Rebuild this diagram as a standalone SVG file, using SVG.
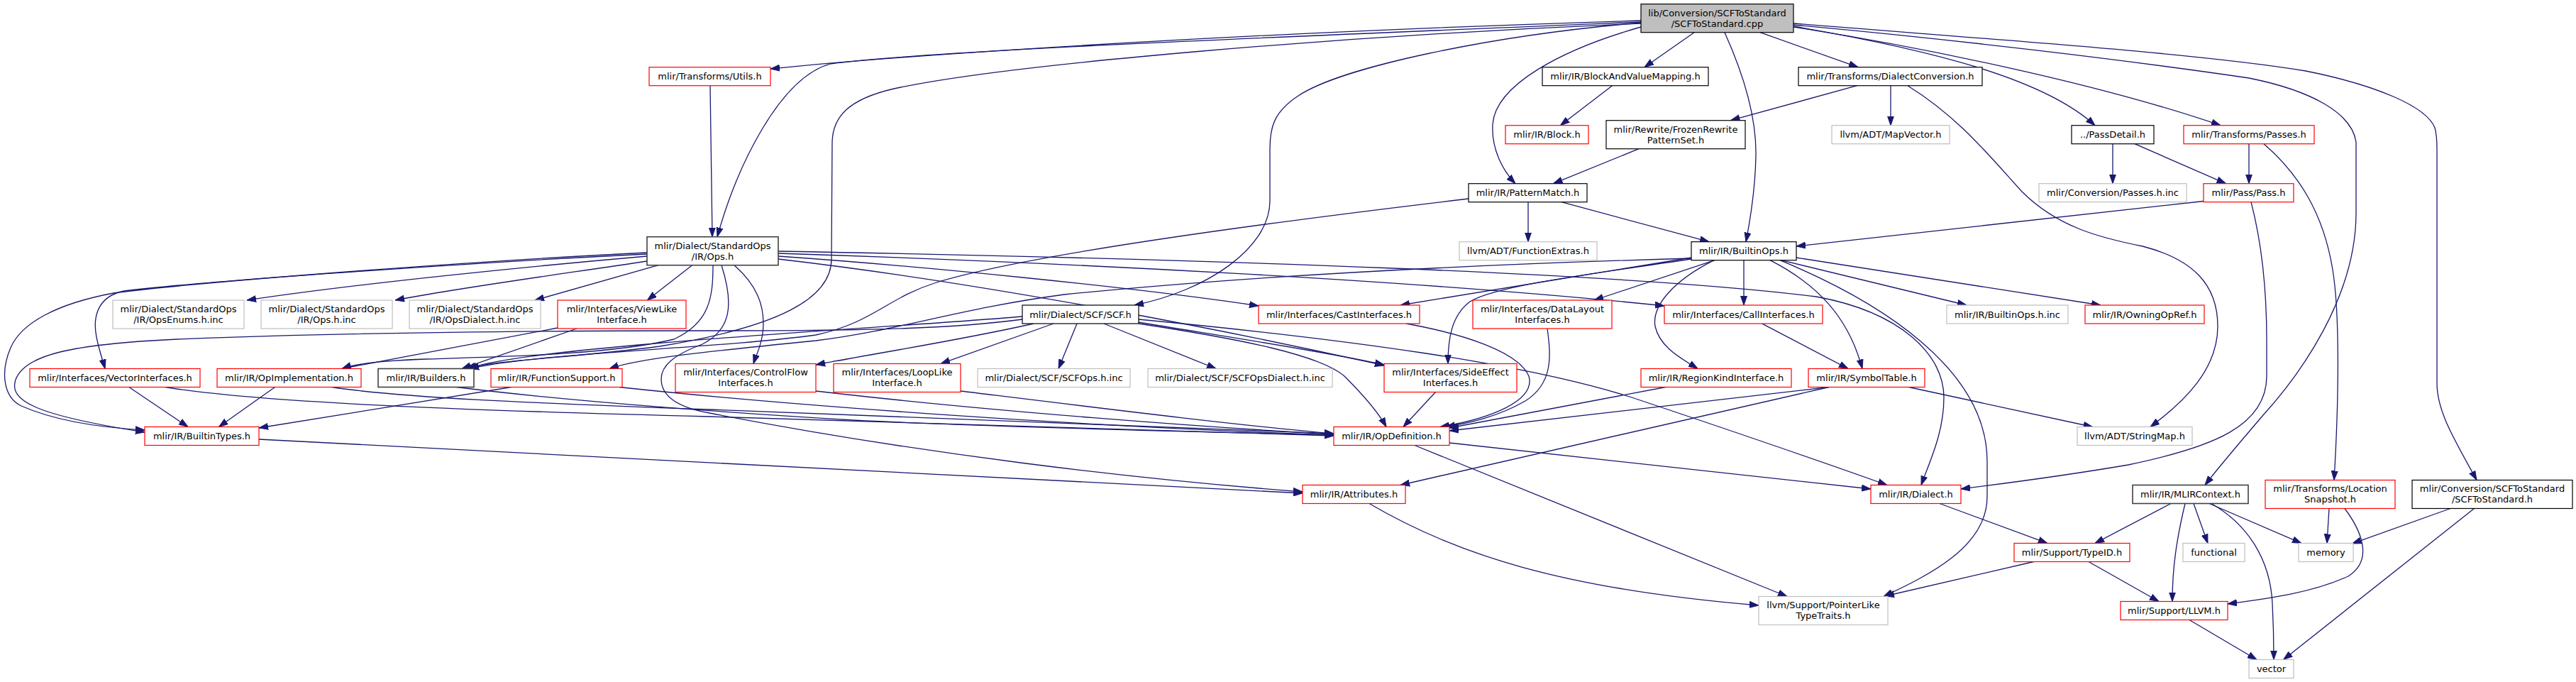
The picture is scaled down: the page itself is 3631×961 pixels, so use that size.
<svg xmlns="http://www.w3.org/2000/svg" width="3631" height="961" viewBox="0 0 3631 961">
<style>
.node rect{fill:#fff;stroke:#000;stroke-width:1.2}
.node.r rect{stroke:#ff0000}
.node.g rect{stroke:#bfbfbf}
.node.d rect{stroke:#404040;stroke-width:1.6}
.node.root rect{fill:#bfbfbf}
text{font-family:"DejaVu Sans","Liberation Sans",sans-serif;font-size:13px;text-anchor:middle;fill:#000}
.edges path{fill:none;stroke:#191970;stroke-width:1.3;marker-end:url(#a)}
</style>
<defs>
<marker id="a" markerWidth="13" markerHeight="10" refX="13" refY="5" orient="auto" markerUnits="userSpaceOnUse"><path d="M0,0.5 L13,5 L0,9.5 z" fill="#191970" stroke="#191970" stroke-width="1"/></marker>
</defs>
<rect x="0" y="0" width="3631" height="961" fill="#fff"/>
<g id="connectors" class="edges">
<path d="M2313,29 C1700,48 1250,80 1086,97"/>
<path d="M2313,31 C1800,52 1300,72 1170,90 C1100,110 1040,230 1011,333.7"/>
<path d="M2388,45.7 L2318,94.7"/>
<path d="M2481,45.7 L2619,94.7"/>
<path d="M2313,38 C2200,70 2108,120 2104,175 C2102,210 2118,240 2136,258.7"/>
<path d="M2431,45.7 C2460,110 2476,170 2475,220 C2474,270 2467,310 2461,340.7"/>
<path d="M2313,32 C2100,50 1890,95 1830,135 C1795,158 1790,180 1790,210 L1790,283 C1790,350 1700,410 1599,430"/>
<path d="M2528,37 C2720,70 2880,110 2953,176.7"/>
<path d="M2528,38 C2700,65 2950,115 3130,176.7"/>
<path d="M2528,35 C2750,55 3000,85 3170,110 C3260,128 3315,160 3321,200 L3321,300 C3321,420 3240,530 3190,585 C3160,620 3130,655 3108,683.5"/>
<path d="M2528,33 C2800,55 3100,75 3250,100 C3350,120 3420,150 3432,180 C3435,190 3435,200 3435,210 L3435,540 C3435,580 3460,620 3491,676.5"/>
<path d="M2313,33 C1900,50 1420,90 1260,125 C1195,140 1174,165 1173,200 L1172,365 C1172,420 1100,460 930,488 C800,505 700,507 657,519.5"/>
<path d="M1001,120.7 L1004,333.7"/>
<path d="M2272.5,120.7 L2199.4,176.7"/>
<path d="M2617.5,120.7 L2439.5,169.7"/>
<path d="M2665,120.7 L2665,176.7"/>
<path d="M2689,120.7 C2760,165 2800,215 2850,270 C2900,320 2960,335 3020,347 C3090,365 3126,400 3126,460 C3126,520 3080,565 3031,601.5"/>
<path d="M2310,209.7 L2189.5,258.7"/>
<path d="M2978,202.7 L2978,258.7"/>
<path d="M3009,202.7 L3137.5,258.7"/>
<path d="M3170,202.7 L3170,258.7"/>
<path d="M3191,202.7 C3240,245 3275,300 3288,380 C3298,440 3297,560 3290,676.5"/>
<path d="M3106,283.5 L2532,347"/>
<path d="M3173,284.7 C3190,350 3195,420 3195,480 L3195,530 C3195,600 3120,630 3000,655 C2900,672 2820,682 2764,689"/>
<path d="M2154,284.7 L2154,340.7"/>
<path d="M2201,284.7 L2409,340.7"/>
<path d="M2070,280 C1800,312 1450,358 1320,398 C1250,420 1230,455 1150,472 C1000,492 760,497 662,519.5"/>
<path d="M912,361 C750,375 500,400 348,423"/>
<path d="M912,368 C800,385 650,405 557,423"/>
<path d="M928,373.7 L754,423"/>
<path d="M912,358 C700,368 300,395 175,410 C135,418 131,450 136,475 C140,495 145,508 148,519.5"/>
<path d="M912,356 C700,366 300,395 160,413 C80,428 30,455 15,490 C0,525 5,560 30,572 C80,594 150,603 204,606"/>
<path d="M975.6,373.7 L912.4,423"/>
<path d="M1005,373.7 C1005,420 1000,455 950,478 C860,500 700,503 600,506 C540,508 500,513 482,519.5"/>
<path d="M1017,373.7 C1035,430 1030,465 990,485 C950,500 932,515 932,534 C932,560 960,575 1000,582 C1300,640 1600,675 1836,693"/>
<path d="M1035,373.7 C1065,400 1080,430 1075,470 C1072,490 1066,500 1062,512.5"/>
<path d="M1097,361 C1300,375 1600,405 1774,431"/>
<path d="M1097,357 C1500,370 2000,395 2346,431"/>
<path d="M1097,365 C1400,400 1750,470 1951,515"/>
<path d="M1097,354 C1700,365 2300,385 2560,418 C2680,440 2740,500 2740,560 C2740,610 2720,650 2708,683.5"/>
<path d="M786,462 L482,519.5"/>
<path d="M813,463 L651,519.5"/>
<path d="M1441,450 C1350,462 1250,466 1000,466 C700,466 450,470 250,478 C100,485 35,500 22,535 C12,565 50,585 204,609"/>
<path d="M1441,446 C1300,458 1100,468 900,486 C780,497 700,506 659,519.5"/>
<path d="M1457,456 C1350,480 1250,495 1150,514"/>
<path d="M1485,456 L1326,512.5"/>
<path d="M1518,456 L1492,519.5"/>
<path d="M1556,456 L1714,519.5"/>
<path d="M1605,454 C1700,470 1850,492 1951,514"/>
<path d="M1605,456 C1750,478 1860,500 1895,530 C1925,560 1945,585 1954,601.5"/>
<path d="M1605,450 C1900,478 2150,512 2300,560 C2450,610 2580,655 2660,683.5"/>
<path d="M2384,363 L1974,430"/>
<path d="M2417,366.7 L2247,423"/>
<path d="M2458,366.7 L2458,430"/>
<path d="M2511,366.7 L2772,430"/>
<path d="M2532,363 L2961,430"/>
<path d="M2495,366.7 C2560,400 2605,445 2625,519.5"/>
<path d="M2509,366.7 C2650,425 2801,520 2801,650 L2801,700 C2801,770 2720,810 2655,840.5"/>
<path d="M2384,365 C2250,385 2110,402 2072,425 C2045,445 2041,480 2041,512.5"/>
<path d="M2416,366.7 C2360,395 2328,430 2333,460 C2340,490 2370,505 2393,519.5"/>
<path d="M2384,364 C2000,375 1700,395 1500,415 C1350,435 1270,465 1150,480 C1000,495 900,505 859,519.5"/>
<path d="M2483,455.7 L2605,519.5"/>
<path d="M2578,545.5 L2043,607"/>
<path d="M2347.6,545.5 L2043,603"/>
<path d="M2578,545.5 L1974,683.5"/>
<path d="M2690.6,545.5 L2949.6,601.5"/>
<path d="M2023.4,552.5 L1978,601.5"/>
<path d="M1982,456 C2060,470 2140,495 2155,530 C2165,565 2100,590 2030,601.5"/>
<path d="M2181,463 C2186,500 2190,540 2150,565 C2110,588 2070,596 2038,601.5"/>
<path d="M387.5,545.5 L308.4,601.5"/>
<path d="M468,545.5 C560,560 750,568 1000,577 C1400,592 1700,605 1880,611"/>
<path d="M181.9,545.5 L265,601.5"/>
<path d="M233,545.5 C350,565 600,577 1000,587 C1400,598 1700,608 1880,614"/>
<path d="M643.5,545.5 C800,565 1000,580 1220,593 C1500,605 1750,610 1880,613"/>
<path d="M720.6,545.5 L365,603"/>
<path d="M873,545.5 C1100,570 1500,600 1880,613"/>
<path d="M1150,551 C1400,580 1700,602 1880,612"/>
<path d="M1354,551 C1550,575 1750,600 1880,611"/>
<path d="M365,619 C800,640 1500,680 1836,695"/>
<path d="M2043,624 L2637,689"/>
<path d="M1994,627.5 L2519,840.5"/>
<path d="M1930,709.5 C2050,780 2200,830 2479,853"/>
<path d="M2734,709.5 L2886,765.5"/>
<path d="M2944,791.5 L3043,847.5"/>
<path d="M2866.6,791.5 L2657,840"/>
<path d="M3086,873.5 L3181,929.5"/>
<path d="M3060,709.5 L2953,765.5"/>
<path d="M3080,709.5 C3068,760 3062,800 3062,847.5"/>
<path d="M3092,709.5 L3112,765.5"/>
<path d="M3114,709.5 L3244,765.5"/>
<path d="M3117,709.5 C3170,740 3200,790 3203,850 C3205,890 3205,910 3205,929.5"/>
<path d="M3283,716.5 L3280,765.5"/>
<path d="M3305,716.5 C3330,750 3345,790 3310,812 C3260,835 3200,843 3140,851"/>
<path d="M3454,716.5 L3315.5,766"/>
<path d="M3487.5,716.5 L3218.6,929.5"/>
</g>
<g id="n_root" class="node root"><rect x="2313" y="5.7" width="215" height="40"/><text x="2420.5" y="22.5">lib/Conversion/SCFToStandard</text><text x="2420.5" y="37.5">/SCFToStandard.cpp</text></g>
<g id="n_utils" class="node r"><rect x="915" y="94.7" width="171" height="26"/><text x="1000.5" y="112.2">mlir/Transforms/Utils.h</text></g>
<g id="n_bvm" class="node"><rect x="2174" y="94.7" width="234" height="26"/><text x="2291" y="112.2">mlir/IR/BlockAndValueMapping.h</text></g>
<g id="n_dc" class="node"><rect x="2535" y="94.7" width="259" height="26"/><text x="2664.5" y="112.2">mlir/Transforms/DialectConversion.h</text></g>
<g id="n_block" class="node r"><rect x="2122" y="176.7" width="117" height="26"/><text x="2180.5" y="194.2">mlir/IR/Block.h</text></g>
<g id="n_frozen" class="node"><rect x="2264" y="169.7" width="196" height="40"/><text x="2362" y="186.5">mlir/Rewrite/FrozenRewrite</text><text x="2362" y="201.5">PatternSet.h</text></g>
<g id="n_mapvec" class="node g"><rect x="2582" y="176.7" width="166" height="26"/><text x="2665" y="194.2">llvm/ADT/MapVector.h</text></g>
<g id="n_passdetail" class="node"><rect x="2920" y="176.7" width="116" height="26"/><text x="2978" y="194.2">../PassDetail.h</text></g>
<g id="n_tpasses" class="node r"><rect x="3078" y="176.7" width="184" height="26"/><text x="3170" y="194.2">mlir/Transforms/Passes.h</text></g>
<g id="n_pm" class="node"><rect x="2070" y="258.7" width="167" height="26"/><text x="2153.5" y="276.2">mlir/IR/PatternMatch.h</text></g>
<g id="n_cpinc" class="node g"><rect x="2874" y="258.7" width="208" height="26"/><text x="2978" y="276.2">mlir/Conversion/Passes.h.inc</text></g>
<g id="n_pass" class="node r"><rect x="3106" y="258.7" width="127" height="26"/><text x="3169.5" y="276.2">mlir/Pass/Pass.h</text></g>
<g id="n_ops" class="node d"><rect x="912" y="333.7" width="185" height="40"/><text x="1004.5" y="350.5">mlir/Dialect/StandardOps</text><text x="1004.5" y="365.5">/IR/Ops.h</text></g>
<g id="n_fextras" class="node g"><rect x="2057" y="340.7" width="194" height="26"/><text x="2154" y="358.2">llvm/ADT/FunctionExtras.h</text></g>
<g id="n_bops" class="node"><rect x="2384" y="340.7" width="148" height="26"/><text x="2458" y="358.2">mlir/IR/BuiltinOps.h</text></g>
<g id="n_enums" class="node g"><rect x="159" y="423" width="185" height="40"/><text x="251.5" y="439.8">mlir/Dialect/StandardOps</text><text x="251.5" y="454.8">/IR/OpsEnums.h.inc</text></g>
<g id="n_opsinc" class="node g"><rect x="368" y="423" width="185" height="40"/><text x="460.5" y="439.8">mlir/Dialect/StandardOps</text><text x="460.5" y="454.8">/IR/Ops.h.inc</text></g>
<g id="n_opsdialect" class="node g"><rect x="577" y="423" width="185" height="40"/><text x="669.5" y="439.8">mlir/Dialect/StandardOps</text><text x="669.5" y="454.8">/IR/OpsDialect.h.inc</text></g>
<g id="n_viewlike" class="node r"><rect x="786" y="423" width="181" height="40"/><text x="876.5" y="439.8">mlir/Interfaces/ViewLike</text><text x="876.5" y="454.8">Interface.h</text></g>
<g id="n_scf" class="node"><rect x="1441" y="430" width="164" height="26"/><text x="1523" y="447.5">mlir/Dialect/SCF/SCF.h</text></g>
<g id="n_cast" class="node r"><rect x="1774" y="430" width="227" height="26"/><text x="1887.5" y="447.5">mlir/Interfaces/CastInterfaces.h</text></g>
<g id="n_datalayout" class="node r"><rect x="2076" y="423" width="196" height="40"/><text x="2174" y="439.8">mlir/Interfaces/DataLayout</text><text x="2174" y="454.8">Interfaces.h</text></g>
<g id="n_call" class="node r"><rect x="2346" y="430" width="223" height="26"/><text x="2457.5" y="447.5">mlir/Interfaces/CallInterfaces.h</text></g>
<g id="n_bopsinc" class="node g"><rect x="2744" y="430" width="171" height="26"/><text x="2829.5" y="447.5">mlir/IR/BuiltinOps.h.inc</text></g>
<g id="n_owning" class="node r"><rect x="2939" y="430" width="168" height="26"/><text x="3023" y="447.5">mlir/IR/OwningOpRef.h</text></g>
<g id="n_vectorif" class="node r"><rect x="42" y="519.5" width="240" height="26"/><text x="162" y="537">mlir/Interfaces/VectorInterfaces.h</text></g>
<g id="n_opimpl" class="node r"><rect x="306" y="519.5" width="203" height="26"/><text x="407.5" y="537">mlir/IR/OpImplementation.h</text></g>
<g id="n_builders" class="node d"><rect x="533" y="519.5" width="135" height="26"/><text x="600.5" y="537">mlir/IR/Builders.h</text></g>
<g id="n_funcsup" class="node r"><rect x="692" y="519.5" width="185" height="26"/><text x="784.5" y="537">mlir/IR/FunctionSupport.h</text></g>
<g id="n_cf" class="node r"><rect x="952" y="512.5" width="198" height="40"/><text x="1051" y="529.3">mlir/Interfaces/ControlFlow</text><text x="1051" y="544.3">Interfaces.h</text></g>
<g id="n_looplike" class="node r"><rect x="1175" y="512.5" width="179" height="40"/><text x="1264.5" y="529.3">mlir/Interfaces/LoopLike</text><text x="1264.5" y="544.3">Interface.h</text></g>
<g id="n_scfopsinc" class="node g"><rect x="1378" y="519.5" width="215" height="26"/><text x="1485.5" y="537">mlir/Dialect/SCF/SCFOps.h.inc</text></g>
<g id="n_scfdialect" class="node g"><rect x="1618" y="519.5" width="260" height="26"/><text x="1748" y="537">mlir/Dialect/SCF/SCFOpsDialect.h.inc</text></g>
<g id="n_sideeffect" class="node r"><rect x="1951" y="512.5" width="187" height="40"/><text x="2044.5" y="529.3">mlir/Interfaces/SideEffect</text><text x="2044.5" y="544.3">Interfaces.h</text></g>
<g id="n_regionkind" class="node r"><rect x="2313" y="519.5" width="212" height="26"/><text x="2419" y="537">mlir/IR/RegionKindInterface.h</text></g>
<g id="n_symtab" class="node r"><rect x="2549" y="519.5" width="164" height="26"/><text x="2631" y="537">mlir/IR/SymbolTable.h</text></g>
<g id="n_btypes" class="node r"><rect x="204" y="601.5" width="161" height="26"/><text x="284.5" y="619">mlir/IR/BuiltinTypes.h</text></g>
<g id="n_opdef" class="node r"><rect x="1880" y="601.5" width="163" height="26"/><text x="1961.5" y="619">mlir/IR/OpDefinition.h</text></g>
<g id="n_strmap" class="node g"><rect x="2928" y="601.5" width="162" height="26"/><text x="3009" y="619">llvm/ADT/StringMap.h</text></g>
<g id="n_attrs" class="node r"><rect x="1836" y="683.5" width="145" height="26"/><text x="1908.5" y="701">mlir/IR/Attributes.h</text></g>
<g id="n_dialect" class="node r"><rect x="2637" y="683.5" width="127" height="26"/><text x="2700.5" y="701">mlir/IR/Dialect.h</text></g>
<g id="n_mlirctx" class="node d"><rect x="3006" y="683.5" width="163" height="26"/><text x="3087.5" y="701">mlir/IR/MLIRContext.h</text></g>
<g id="n_locsnap" class="node r"><rect x="3193" y="676.5" width="183" height="40"/><text x="3284.5" y="693.3">mlir/Transforms/Location</text><text x="3284.5" y="708.3">Snapshot.h</text></g>
<g id="n_scfstd" class="node"><rect x="3400" y="676.5" width="226" height="40"/><text x="3513" y="693.3">mlir/Conversion/SCFToStandard</text><text x="3513" y="708.3">/SCFToStandard.h</text></g>
<g id="n_typeid" class="node r"><rect x="2839" y="765.5" width="163" height="26"/><text x="2920.5" y="783">mlir/Support/TypeID.h</text></g>
<g id="n_functional" class="node g"><rect x="3077" y="765.5" width="87" height="26"/><text x="3120.5" y="783">functional</text></g>
<g id="n_memory" class="node g"><rect x="3240" y="765.5" width="77" height="26"/><text x="3278.5" y="783">memory</text></g>
<g id="n_ptrlike" class="node g"><rect x="2479" y="840.5" width="182" height="40"/><text x="2570" y="857.3">llvm/Support/PointerLike</text><text x="2570" y="872.3">TypeTraits.h</text></g>
<g id="n_llvm" class="node r"><rect x="2989" y="847.5" width="151" height="26"/><text x="3064.5" y="865">mlir/Support/LLVM.h</text></g>
<g id="n_vec" class="node g"><rect x="3170" y="929.5" width="63" height="26"/><text x="3201.5" y="947">vector</text></g>
</svg>
